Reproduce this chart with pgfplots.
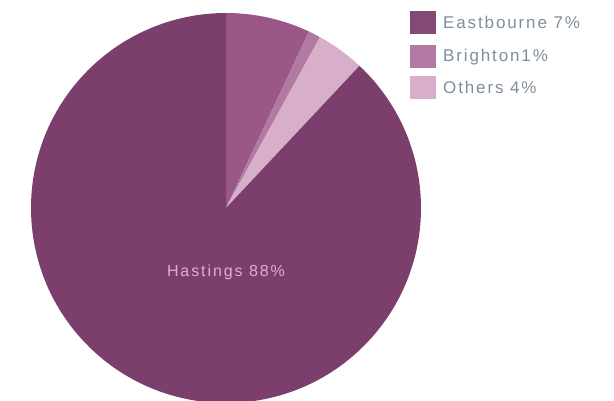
\documentclass[border=0pt]{standalone}
\usepackage{pgfplots}
\usepackage{pgfplotstable}
\pgfplotsset{compat=1.18}
\usepackage{fontspec}
\setmainfont{Liberation Sans}
\definecolor{cHastings}{HTML}{7C3E6D}
\definecolor{cEast}{HTML}{9A5888}
\definecolor{cBright}{HTML}{B27AA2}
\definecolor{cOthers}{HTML}{D7AFCA}
\definecolor{legtext}{HTML}{7F8E9C}
\definecolor{pietext}{HTML}{E2AECB}
\colorlet{slice0}{cEast}
\colorlet{slice1}{cBright}
\colorlet{slice2}{cOthers}
\colorlet{slice3}{cHastings}
\pgfplotstableread{
label value
Eastbourne 7
Brighton 1
Others 4
Hastings 88
}\piedata
\begin{document}
\begin{tikzpicture}
\begin{axis}[hide axis, scale only axis, width=614pt, height=401pt,
  xmin=0, xmax=614, ymin=0, ymax=401, clip=true]
\addplot[draw=none] coordinates {(0,0) (614,401)};
\pgfplotstablegetrowsof{\piedata}
\pgfmathtruncatemacro\N{\pgfplotsretval-1}
\def\cum{0}
\pgfplotsforeachungrouped \i in {0,...,\N}{
  \pgfplotstablegetelem{\i}{value}\of\piedata
  \let\v\pgfplotsretval
  \pgfmathsetmacro\a{90-3.6*\cum}
  \pgfmathsetmacro\b{90-3.6*(\cum+\v)}
  \edef\temp{\noexpand\fill[slice\i] (axis cs:226,193) -- ++(\a:195pt) arc[start angle=\a, end angle=\b, radius=195pt] -- cycle;}
  \temp
  \pgfmathsetmacro\cum{\cum+\v}
}
\node[text=pietext, font=\fontsize{16}{18}\selectfont\addfontfeatures{LetterSpace=12}] at (axis cs:226,129) {Hastings 88\%};
\fill[cEast!85!black] (axis cs:410,367) rectangle (axis cs:436,390);
\fill[cBright] (axis cs:410,333) rectangle (axis cs:436,356);
\fill[cOthers] (axis cs:410,302) rectangle (axis cs:436,325);
\begin{scope}[every node/.style={anchor=west, text=legtext, inner sep=0pt, font=\fontsize{17}{19}\selectfont\addfontfeatures{LetterSpace=11}}]
\node at (axis cs:443,379) {Eastbourne 7\%};
\node at (axis cs:443,344) {Brighton1\%};
\node at (axis cs:443,314) {Others 4\%};
\end{scope}
\end{axis}
\end{tikzpicture}
\end{document}
